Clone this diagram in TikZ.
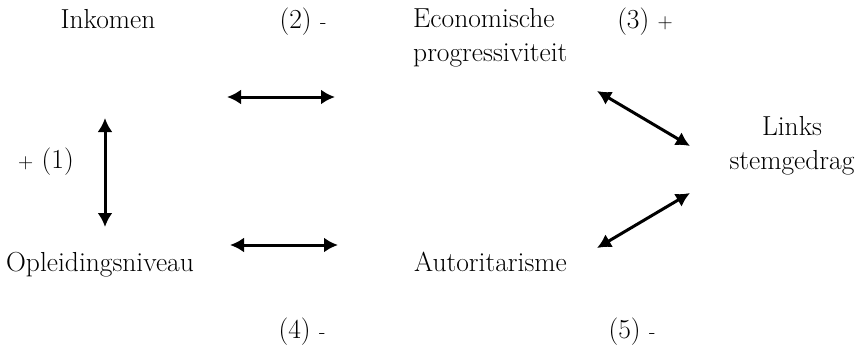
\documentclass[tikz,border=0pt]{standalone}
\usetikzlibrary{arrows.meta}
\newcommand{\teken}[1]{{\fontsize{21}{21}\selectfont #1}}
\begin{document}
\begin{tikzpicture}[x=1pt,y=-1pt,
	txt/.style={font=\fontsize{27.5}{34}\selectfont, inner sep=0pt},
	pijl/.style={{Latex[length=14pt,width=15pt]}-{Latex[length=14pt,width=15pt]}, line width=3pt}]
				\useasboundingbox (0,0) rectangle (856,348);
				\node[txt, anchor=base] (ink) at (108,28){Inkomen};
				\node[txt, anchor=base] (l2) at (303,28){(2) \teken{-}};
				\node[txt, anchor=west, align=left] (eco) at (413,38){Economische\\progressiviteit};
				\node[txt, anchor=base] (l3) at (645,28){(3) \teken{+}};
				\node[txt, align=center] (links) at (792,146){Links\\stemgedrag};
				\node[txt, anchor=base] (l1) at (46,168){\teken{+} (1)};
				\node[txt, anchor=base] (opl) at (100,271){Opleidingsniveau};
				\node[txt, anchor=base west] (aut) at (414,271){Autoritarisme};
				\node[txt, anchor=base] (l4) at (302,338){(4) \teken{-}};
				\node[txt, anchor=base] (l5) at (632,338){(5) \teken{-}};
				\coordinate (v1) at (105,118);
				\coordinate (v2) at (105,227);
				\coordinate (h1) at (227,97);
				\coordinate (h2) at (335,97);
				\coordinate (h3) at (230,245);
				\coordinate (h4) at (338,245);
				\coordinate (d1) at (597,91);
				\coordinate (d2) at (690,146);
				\coordinate (d3) at (597,248);
				\coordinate (d4) at (690,193);
				\draw[pijl](v1)--(v2);
				\draw[pijl](h1)--(h2);
				\draw[pijl](h3)--(h4);
				\draw[pijl](d1)--(d2);
				\draw[pijl](d3)--(d4);
\end{tikzpicture}
\end{document}
